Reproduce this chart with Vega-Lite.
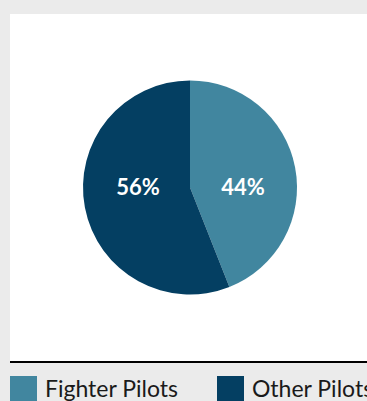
{
  "$schema": "https://vega.github.io/schema/vega-lite/v6.json",
  "width": 360,
  "height": 347,
  "autosize": {"type": "none"},
  "padding": {"left": 10, "top": 14, "right": 0, "bottom": 40},
  "background": "#ebebeb",
  "view": {"fill": "white", "stroke": null},
  "config": {"font": "Lato"},
  "data": {"values": [
    {"group": "Fighter Pilots", "share": 44, "label": "44%"},
    {"group": "Other Pilots", "share": 56, "label": "56%"}
  ]},
  "layer": [
    {
      "mark": {"type": "arc", "outerRadius": 107},
      "encoding": {
        "theta": {"field": "share", "type": "quantitative", "stack": true},
        "order": {"field": "share", "type": "quantitative", "sort": "ascending"},
        "color": {
          "field": "group", "type": "nominal",
          "scale": {"domain": ["Fighter Pilots", "Other Pilots"], "range": ["#41869f", "#043f62"]},
          "legend": {
            "orient": "none", "legendX": 0, "legendY": 362, "direction": "horizontal",
            "title": null, "padding": 0,
            "symbolType": "square", "symbolSize": 729, "symbolStrokeWidth": 0, "symbolOpacity": 1,
            "labelFontSize": 23, "labelOffset": 8, "labelColor": "#1a1a1a", "labelLimit": 300,
            "columnPadding": 38
          }
        }
      }
    },
    {
      "mark": {"type": "text", "fontSize": 22, "fontWeight": "bold", "color": "white", "y": {"expr": "height/2"}},
      "encoding": {
        "x": {"field": "group", "type": "nominal", "scale": {"type": "point", "domain": ["Other Pilots", "Fighter Pilots"], "range": [128, 233], "padding": 0}, "axis": null},
        "text": {"field": "label"}
      }
    },
    {
      "data": {"values": [{}]},
      "mark": {"type": "rule", "color": "black", "strokeWidth": 2},
      "encoding": {"y": {"value": {"expr": "height+1"}}}
    }
  ]
}
